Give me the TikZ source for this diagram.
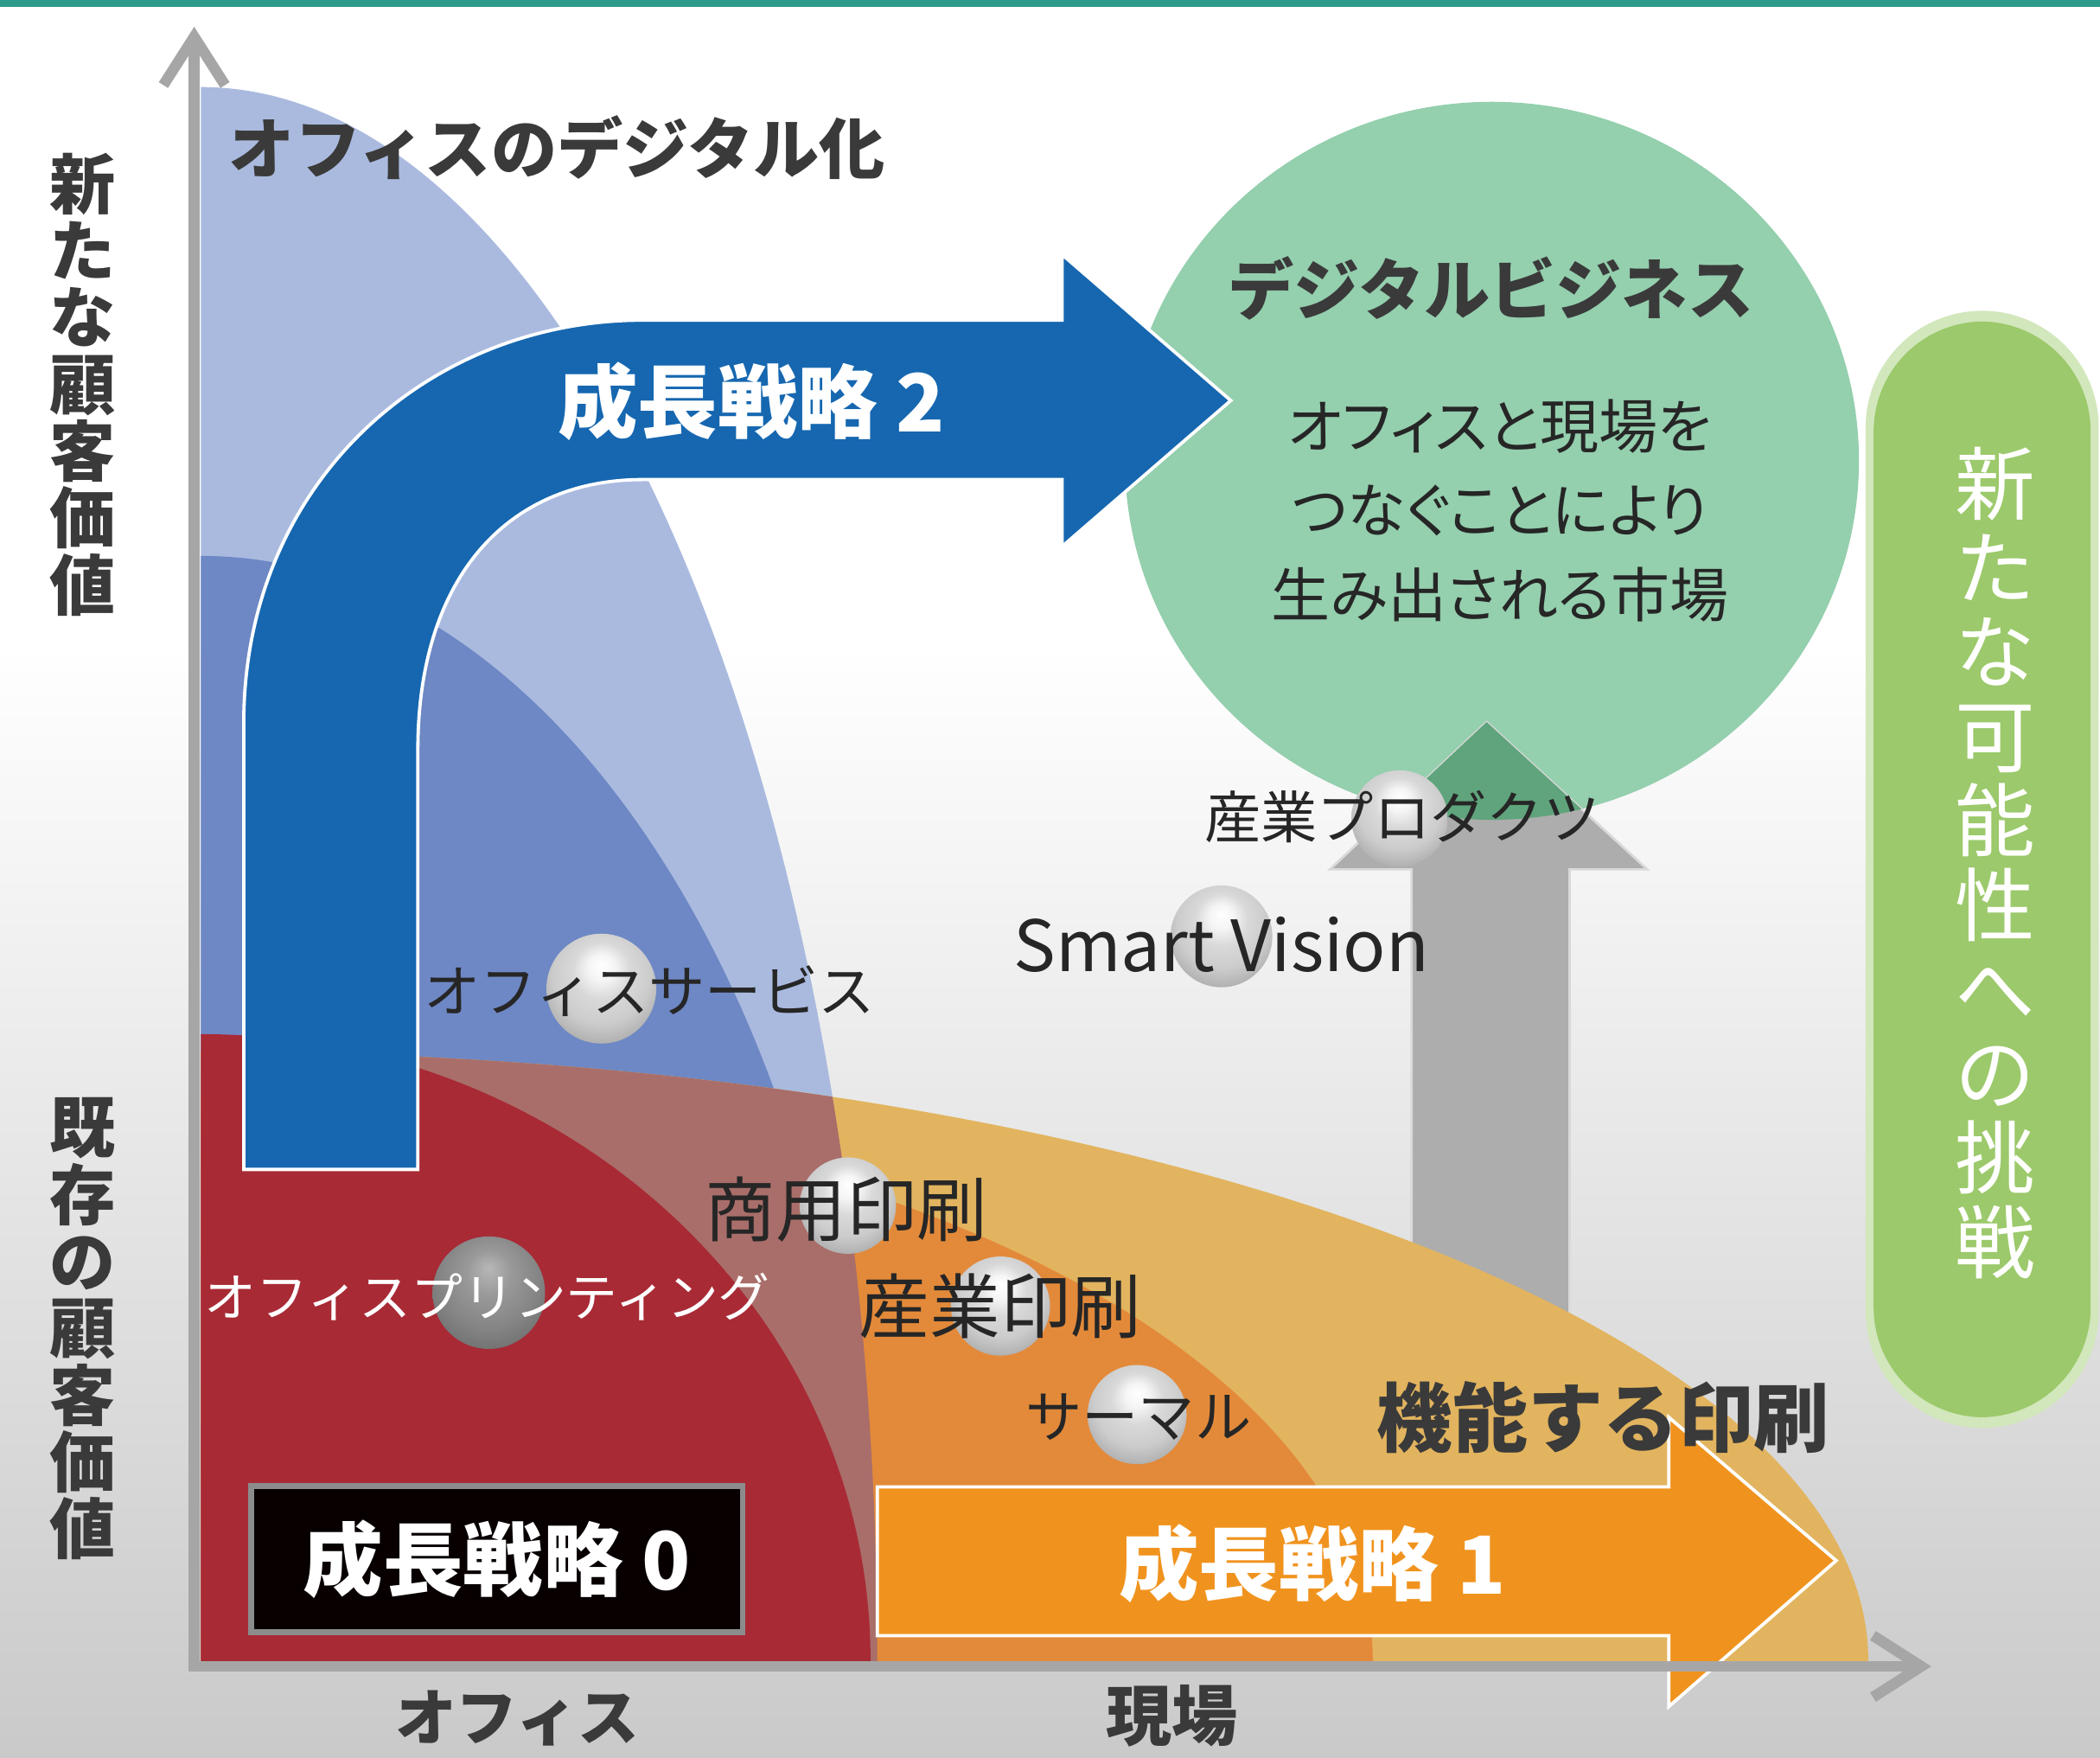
\documentclass[tikz,border=0pt]{standalone}
\usepackage{fontspec}
\setmainfont{Noto Sans CJK JP}
\usetikzlibrary{arrows.meta}

\definecolor{topteal}{HTML}{2E9A8C}
\definecolor{paleblue}{HTML}{AABADF}
\definecolor{midblue}{HTML}{6E88C5}
\definecolor{arrowblue}{HTML}{1667B0}
\definecolor{officered}{HTML}{A82A35}
\definecolor{rosy}{HTML}{A96E6A}
\definecolor{tan}{HTML}{E2B45F}
\definecolor{midorange}{HTML}{E38A3A}
\definecolor{arroworange}{HTML}{F0931E}
\definecolor{mint}{HTML}{94CFAE}
\definecolor{darkmint}{HTML}{5FA47C}
\definecolor{leaf}{HTML}{9CC96B}
\definecolor{axisgray}{HTML}{A6A6A6}
\definecolor{headgray}{HTML}{3A3A3A}

\pgfdeclareradialshading{glossy}{\pgfpoint{0bp}{11bp}}{color(0bp)=(white); color(6bp)=(white!96!black);
  color(13bp)=(white!85!black); color(22bp)=(white!80!black); color(31bp)=(white!67!black); color(37bp)=(white!55!black); color(50bp)=(white!55!black)}
\pgfdeclareradialshading{glossydark}{\pgfpoint{0bp}{11bp}}{color(0bp)=(white!72!black); color(10bp)=(white!60!black);
  color(22bp)=(white!52!black); color(31bp)=(white!44!black); color(37bp)=(white!36!black); color(50bp)=(white!36!black)}

\tikzset{
  axisline/.style={axisgray, line width=2.3pt, -{Straight Barb[length=3.6mm, width=4.6mm]}},
  heading/.style={text=headgray, inner sep=0pt, font=\bfseries\fontsize{14}{16}\selectfont},
  vertlabel/.style={text=headgray, inner sep=0pt, align=center, font=\bfseries\fontsize{14}{14.2}\selectfont},
  strategy/.style={text=white, inner sep=0pt, font=\bfseries\fontsize{17}{19}\selectfont},
  item/.style={text=black!85, inner sep=0pt, font=\fontsize{12}{14}\selectfont},
  bigitem/.style={item, font=\fontsize{15}{17}\selectfont},
  marker/.style={shading=glossy},
}

\begin{document}
\begin{tikzpicture}[x=0.1mm, y=-0.1mm]

        \useasboundingbox (0,0) rectangle (1568,1312);
        \fill[white] (0,0) rectangle (1568,1312);
        \shade[top color=white, bottom color=black!21] (0,480) rectangle (1568,1312);
        \fill[topteal] (0,0) rectangle (1568,5);

        \coordinate (o) at (150,1240);
        \coordinate (c) at (1114,344);

        % green market circle and pill
        \fill[mint] (c) ellipse[x radius=274, y radius=268];
        \fill[leaf!45, rounded corners=8.7mm] (1393,232) rectangle (1567,1066);
        \fill[leaf, rounded corners=8.2mm] (1399,240) rectangle (1561,1058);

        % upward gray arrow
        \fill[black!32, draw=white!85!black, line width=0.5pt] (1054,1006) -- (1054,649) -- (993,649) -- (1110,539)
            -- (1230,649) -- (1172,649) -- (1172,1006) -- cycle;
        \begin{scope}
            \clip (c) ellipse[x radius=274, y radius=268];
            \fill[darkmint] (993,649) -- (1110,539) -- (1230,649) -- cycle;
        \end{scope}

        % value regions
        \begin{scope}
            \clip (150,0) rectangle (1568,1240);
            \fill[paleblue] (o) ellipse[x radius=505, y radius=1175];
            \fill[midblue] (o) ellipse[x radius=500, y radius=825];
            \fill[tan] (o) ellipse[x radius=1245, y radius=455];
            \fill[midorange] (o) ellipse[x radius=875, y radius=425];
            \begin{scope}
                \clip (o) ellipse[x radius=505, y radius=1175];
                \fill[rosy] (o) ellipse[x radius=1245, y radius=455];
            \end{scope}
            \fill[officered] (o) ellipse[x radius=500, y radius=468];
        \end{scope}

        % strategy arrows
        \fill[arrowblue, draw=white, line width=0.7pt] (182,873) -- (182,540) .. controls (182,360) and (320,239) .. (480,239)
            -- (793,239) -- (793,190) -- (919,299) -- (793,408) -- (793,358) -- (480,358)
            .. controls (380,358) and (312,430) .. (312,560) -- (312,873) -- cycle;
        \fill[arroworange, draw=white, line width=0.7pt] (655,1110) -- (1246,1110) -- (1246,1058) -- (1371,1165)
            -- (1246,1274) -- (1246,1221) -- (655,1221) -- cycle;

        \node[strategy, fill=black!97!red, draw=black!45, line width=1.2pt, minimum width=36.7mm, minimum height=10.9mm] (s0) at (371,1164) {成長戦略 0};
        \node[strategy] (s1) at (980,1167) {成長戦略 1};
        \node[strategy] (s2) at (561,300) {成長戦略 2};

        % axes
        \draw[axisline] (145,1244) -- (145,20);
        \draw[axisline] (141,1244) -- (1442,1244);

        % business markers
        \shade[marker] (449,738) circle[radius=41];
        \shade[marker] (912,699) circle[radius=38];
        \shade[marker] (1045,611) circle[radius=36];
        \shade[marker] (633,900) circle[radius=36];
        \shade[marker] (747,975) circle[radius=37];
        \shade[marker] (849,1056) circle[radius=37];
        \shade[shading=glossydark] (365,965) circle[radius=42];

        \node[item] (service) at (485,740) {オフィスサービス};
        \node[item, font=\fontsize{15}{17}\selectfont] (vision) at (912,705) {Smart Vision};
        \node[item] (products) at (1047,610) {産業プロダクツ};
        \node[bigitem] (commercial) at (632,903) {商用印刷};
        \node[bigitem] (industrial) at (747,975) {産業印刷};
        \node[item] (thermal) at (850,1058) {サーマル};
        \node[item, text=white, font=\fontsize{11}{13}\selectfont] (printing) at (364,968) {オフィスプリンティング};

        % headings
        \node[heading] (digital) at (416,110) {オフィスのデジタル化};
        \node[heading] (business) at (1113,215) {デジタルビジネス};
        \node[item, align=center, text=black!85, font=\fontsize{12.5}{17.9}\selectfont\addfontfeatures{RawFeature=+palt}] (market) at (1120,381) {オフィスと現場を\\つなぐことにより\\生み出される市場};
        \node[heading, font=\bfseries\fontsize{16}{18}\selectfont] (function) at (1197,1058) {機能する印刷};

        \node[vertlabel] (newvalue) at (62,287) {新\\た\\な\\顧\\客\\価\\値};
        \node[vertlabel] (oldvalue) at (62,992) {既\\存\\の\\顧\\客\\価\\値};
        \node[vertlabel, text=white, font=\fontsize{17}{17.9}\selectfont] (challenge) at (1490,644) {新\\た\\な\\可\\能\\性\\へ\\の\\挑\\戦};
        \node[heading, font=\bfseries\fontsize{13}{15}\selectfont] (office) at (386,1283) {オフィス};
        \node[heading] (site) at (875,1281) {現場};

\end{tikzpicture}
\end{document}
